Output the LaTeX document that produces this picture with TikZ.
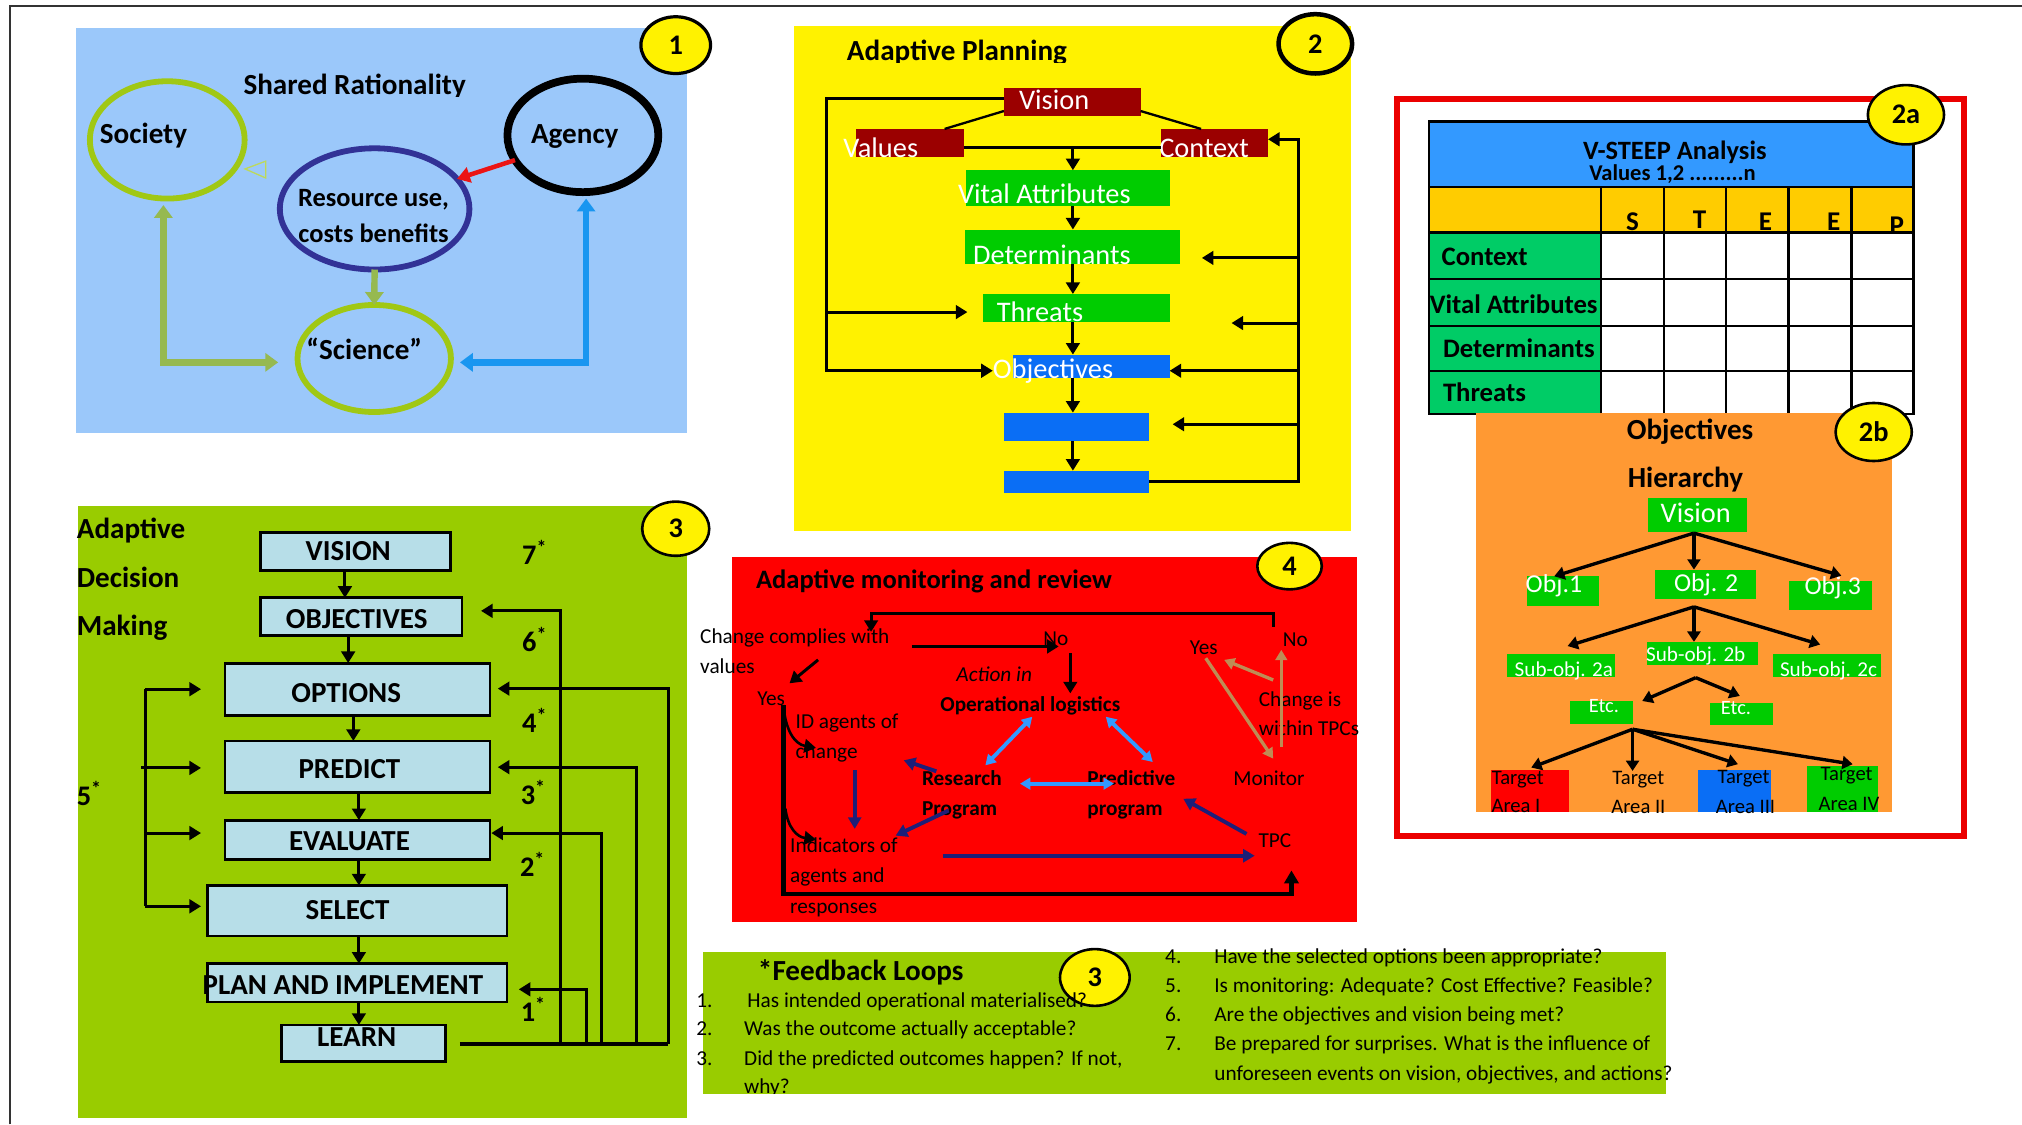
\documentclass[tikz,border=0pt]{standalone}
\usepackage{fontspec}
\setmainfont{Carlito}
\usetikzlibrary{arrows.meta,shapes.geometric,calc}

\definecolor{skypanel}{RGB}{155,200,250}
\definecolor{limec}{RGB}{160,200,20}
\definecolor{olivec}{RGB}{150,185,80}
\definecolor{arrowblue}{RGB}{25,150,240}
\definecolor{resblue}{RGB}{50,50,150}
\definecolor{arrred}{RGB}{235,20,20}
\definecolor{darkred}{RGB}{155,0,0}
\definecolor{boxgreen}{RGB}{0,204,0}
\definecolor{boxblue}{RGB}{10,110,245}
\definecolor{framered}{RGB}{235,0,0}
\definecolor{headblue}{RGB}{51,153,255}
\definecolor{headyellow}{RGB}{255,204,0}
\definecolor{rowgreen}{RGB}{0,204,102}
\definecolor{hierorange}{RGB}{255,153,51}
\definecolor{leafgreen}{RGB}{153,204,0}
\definecolor{stepcyan}{RGB}{183,222,232}
\definecolor{monred}{RGB}{255,0,0}
\definecolor{navyarrow}{RGB}{30,30,120}
\definecolor{paleblue}{RGB}{51,153,255}
\definecolor{tanline}{RGB}{190,140,85}

\newcommand\fz[1]{\fontsize{#1pt}{#1pt}\selectfont}
% rectangle node given by its two corners
\newcommand\cornerbox[6]{\node[#6, shape=rectangle, inner sep=0pt, outer sep=0pt, anchor=north west,
  minimum width={(#4-#2)*1pt}, minimum height={(#5-#3)*1pt}] (#1) at (#2,#3) {};}

\begin{document}
\begin{tikzpicture}[x=1pt, y=-1pt,
  every node/.style={inner sep=0pt, outer sep=0pt},
  hd/.style={font=\bfseries\fz{22.6}, text height=14.5pt, text depth=0pt},
  wt/.style={font=\fz{22}, text=white},
  badge/.style={shape=ellipse, draw=black, line width=2.5pt, fill=yellow, font=\bfseries\fz{22}},
  tipk/.style={-{Triangle[length=9pt,width=10.5pt]}},
  blk/.style={draw=black, line width=2.3pt, tipk},
  plainblk/.style={draw=black, line width=2.3pt},
  stepbox/.style={fill=stepcyan, draw=black, line width=2.2pt},
  steptxt/.style={font=\bfseries\fz{22.5}, text height=14.5pt, text depth=0pt},
  numlbl/.style={font=\bfseries\fz{22}, anchor=base west},
  body/.style={font=\fz{16.5}, text height=10.6pt, text depth=0pt},
  bodyb/.style={font=\bfseries\fz{16.5}, text height=10.6pt, text depth=0pt},
  rowlbl/.style={font=\bfseries\fz{20.7}, text height=13.3pt, text depth=0pt, anchor=west},
  hier/.style={draw=black, line width=2.6pt, -{Triangle[length=8pt,width=10pt]}},
  tgt/.style={font=\fz{16}, text height=10.3pt, text depth=0pt},
  navy/.style={draw=navyarrow, line width=3pt, -{Triangle[length=9pt,width=10pt]}},
  pale/.style={draw=paleblue, line width=3pt, {Triangle[length=8pt,width=9pt]}-{Triangle[length=8pt,width=9pt]}},
  tanarrow/.style={draw=tanline, line width=2.6pt, -{Triangle[length=8pt,width=9pt]}},
]
\useasboundingbox (0,0) rectangle (1568,872);
\fill[white] (0,0) rectangle (1568,872);
\draw[line width=1.6pt, black!80] (8,872) -- (8,5) -- (1568,5);

%% ---------- 1: shared rationality ----------
\cornerbox{pone}{59}{22}{533}{336}{fill=skypanel}
\node[badge, minimum width=54pt, minimum height=44pt] (badgeone) at (524,35) {1};
\begin{scope}
  \clip (150,40) rectangle (400,74.8);
  \node[hd] (shared) at (275,66) {Shared Rationality};
\end{scope}
\node[shape=ellipse, draw=limec, line width=4.5pt, minimum width=120pt, minimum height=91pt] (society) at (129.7,108.5) {};
\node[shape=ellipse, draw=black, line width=6pt, minimum width=117pt, minimum height=88pt] (agency) at (452,105) {};
\node[shape=ellipse, draw=resblue, line width=4.5pt, minimum width=147pt, minimum height=94pt] (resource) at (290.5,162) {};
\node[shape=ellipse, draw=limec, line width=4.5pt, minimum width=119pt, minimum height=83pt] (science) at (290.2,278) {};
\node[hd, anchor=west] (societyname) at (77.5,104.4) {Society};
\node[hd] (agencyname) at (445.7,104.4) {Agency};
\node[font=\bfseries\fz{20.5}, text height=13.2pt, text depth=0pt] (resA) at (289.7,153.3) {Resource use,};
\node[font=\bfseries\fz{20.5}, text height=13.2pt, text depth=0pt] (resB) at (289.7,181.6) {costs benefits};
\node[hd] (sciencename) at (282.5,271.7) {“Science”};
\draw[draw=arrred, line width=3.5pt, -{Triangle[length=10pt,width=12pt]}] (agency.200) -- (resource.20);
\draw[draw=olivec, line width=5pt, -{Triangle[length=10pt,width=14pt]}] (resource.south) -- (science.north);
\draw[draw=olivec, line width=5pt, {Triangle[length=10pt,width=14pt]}-{Triangle[length=10pt,width=14pt]},
  shorten <=5pt, shorten >=15pt] ([xshift=-3pt]society.south) |- ([yshift=-3pt]science.west);
\draw[draw=arrowblue, line width=5pt, {Triangle[length=10pt,width=14pt]}-{Triangle[length=10pt,width=14pt]},
  shorten <=5pt, shorten >=7pt] ([xshift=2.5pt]agency.south) |- ([yshift=-3pt]science.east);
\draw[draw=limec!70, line width=1pt] (190,131) -- (206,125) -- (206,138) -- cycle;

%% ---------- 2: adaptive planning ----------
\cornerbox{ptwo}{616}{20}{1048}{411.8}{fill=yellow}
\node[badge, line width=3.5pt, minimum width=57pt, minimum height=46pt, fill=yellow] (badgetwo) at (1020,34) {2};
\begin{scope}
  \clip (640,20) rectangle (900,48.5);
  \node[hd, anchor=west] (aptitle) at (656.8,40) {Adaptive Planning};
\end{scope}
\cornerbox{vis}{778.5}{68}{884.5}{89.6}{fill=darkred}
\cornerbox{val}{663.7}{100}{747.3}{122}{fill=darkred}
\cornerbox{ctx}{900.2}{100}{983.3}{122}{fill=darkred}
\cornerbox{vital}{749.4}{132}{907}{160}{fill=boxgreen}
\cornerbox{det}{748}{178}{915}{205}{fill=boxgreen}
\cornerbox{thr}{762.2}{228}{907}{250}{fill=boxgreen}
\cornerbox{obj}{785.9}{275}{907}{293}{fill=boxblue}
\cornerbox{bxa}{778.5}{320}{891.3}{342}{fill=boxblue}
\cornerbox{bxb}{778.5}{365}{891.3}{382.5}{fill=boxblue}
\node[wt, anchor=base west] (visname) at (790.3,85) {Vision};
\node[wt, anchor=base west] (valname) at (654,121.9) {Values};
\node[wt, anchor=base west] (ctxname) at (899,121.9) {Context};
\node[wt, anchor=base west] (vitalname) at (743,157.8) {Vital Attributes};
\node[wt, anchor=base west] (detname) at (754.6,205.4) {Determinants};
\node[wt, anchor=base west] (thrname) at (773,249.5) {Threats};
\node[wt, anchor=base west] (objname) at (770,293.3) {Objectives};
\draw[plainblk, line width=1.8pt] ($(vis.south west)+(0,-3.5)$) -- ($(val.north west)+(68.8,0)$);
\draw[plainblk, line width=1.8pt] ($(vis.south east)+(0,-3.5)$) -- ($(ctx.north west)+(31.2,0)$);
\draw[plainblk] ($(val.east)+(0,3.5)$) -- ($(ctx.west)+(0,3.5)$);
\coordinate (cx) at (832,114.5);
\draw[blk] (cx) -- (cx |- vital.north);
\draw[blk] (cx |- vital.south) -- (cx |- det.north);
\draw[blk] (cx |- det.south) -- (cx |- thr.north);
\draw[blk] (cx |- thr.south) -- (cx |- obj.north);
\draw[blk] (cx |- obj.south) -- (cx |- bxa.north);
\draw[blk] (cx |- bxa.south) -- (cx |- bxb.north);
% left feedback
\coordinate (lx) at (640.6,0);
\coordinate (visL) at ($(vis.north west)+(0,8.2)$);
\coordinate (objL) at ($(obj.west)+(0,3.5)$);
\coordinate (thrL) at ($(thr.west)+(0,3)$);
\draw[blk, shorten >=16pt] (visL) -| (lx |- objL) -- (objL);
\draw[blk, shorten >=12pt] (lx |- thrL) -- (thrL);
% right feedback
\coordinate (rx) at (1007,0);
\coordinate (ctxR) at ($(ctx.east)+(0,-3)$);
\draw[blk] (bxb.east) -| (rx |- ctxR) -- (ctxR);
\coordinate (detR) at ($(det.east)+(17,8.5)$);
\coordinate (thrR) at ($(thr.east)+(48,11.5)$);
\coordinate (objR) at ($(obj.east)+(0,3.5)$);
\coordinate (bxaR) at ($(bxa.east)+(18,-2)$);
\foreach \t in {detR,thrR,objR,bxaR} \draw[blk] (rx |- \t) -- (\t);

%% ---------- 2a: V-STEEP table ----------
\cornerbox{frametwo}{1083.6}{77}{1522.8}{648}{draw=framered, line width=4.5pt, fill=white}
\cornerbox{thead}{1108.2}{94}{1484}{144.7}{fill=headblue}
\cornerbox{tyel}{1108.2}{144.7}{1484}{180.3}{fill=headyellow}
\node[font=\bfseries\fz{20.5}, text height=13.2pt, text depth=0pt] (steeptitle) at (1298.7,117) {V-STEEP Analysis};
\node[font=\bfseries\fz{17.5}, text height=11.3pt, text depth=0pt] (steepvalues) at (1297,134.5) {Values 1,2 .........n};
\begin{scope}
  \clip (1108.2,144.7) rectangle (1484,180.3);
  \node[font=\bfseries\fz{21}, anchor=base] (colS) at (1266,178.5) {S};
  \node[font=\bfseries\fz{21}, anchor=base] (colT) at (1318,177) {T};
  \node[font=\bfseries\fz{21}, anchor=base] (colE) at (1369,179) {E};
  \node[font=\bfseries\fz{21}, anchor=base] (colEE) at (1422,179) {E};
  \node[font=\bfseries\fz{21}, anchor=base] (colP) at (1471,182) {P};
\end{scope}
\cornerbox{tbody}{1108.2}{180.3}{1484}{321}{fill=white}
\cornerbox{tgreen}{1108.2}{180.3}{1241.6}{321}{fill=rowgreen}
\foreach \yy in {144.7,180.3,216,252.5,287.6} \draw[line width=1.6pt] (1108.2,\yy) -- (1484,\yy);
\foreach \xx in {1241.6,1290.5,1338.6,1387,1435.8} \draw[line width=1.8pt] (\xx,144.7) -- (\xx,321);
\draw[line width=2pt] (1108.2,94) rectangle (1484,321);
\node[rowlbl] (rowctx) at (1118,199) {Context};
\node[rowlbl] (rowvital) at (1108.8,236.5) {Vital Attributes};
\node[rowlbl] (rowdet) at (1119,270.7) {Determinants};
\node[rowlbl] (rowthr) at (1119,304.4) {Threats};
\node[badge, line width=2pt, minimum width=59pt, minimum height=46pt] (badgetwoa) at (1478,89) {2a};

%% ---------- 2b: objectives hierarchy ----------
\cornerbox{ptwob}{1144.4}{320}{1467.3}{630}{fill=hierorange}
\node[badge, line width=2pt, minimum width=59pt, minimum height=45pt] (badgetwob) at (1453,335) {2b};
\node[hd] (hiertitleA) at (1310.6,333.4) {Objectives};
\node[hd] (hiertitleB) at (1307,370.8) {Hierarchy};
\cornerbox{hvis}{1278}{385.8}{1354.5}{412.8}{fill=boxgreen}
\cornerbox{hoa}{1184.5}{446.9}{1240.3}{470.1}{fill=boxgreen}
\cornerbox{hob}{1283.3}{441.7}{1362}{464.4}{fill=boxgreen}
\cornerbox{hoc}{1387.2}{450.8}{1451.6}{472.7}{fill=boxgreen}
\cornerbox{hsa}{1169}{507.5}{1252.7}{525}{fill=boxgreen}
\cornerbox{hsb}{1277.4}{497.7}{1363.2}{515.7}{fill=boxgreen}
\cornerbox{hsc}{1375}{507.5}{1459}{525}{fill=boxgreen}
\cornerbox{hea}{1217.1}{543.6}{1266}{561.7}{fill=boxgreen}
\cornerbox{heb}{1326}{545}{1375}{562.4}{fill=boxgreen}
\cornerbox{hta}{1156.3}{597}{1216.5}{630}{fill=monred}
\cornerbox{htc}{1316.6}{597}{1373}{630}{fill=boxblue}
\cornerbox{htd}{1401}{594}{1456}{630}{fill=boxgreen}
\node[wt, text height=14.2pt, text depth=0pt] (hvisname) at (1315,397.9) {Vision};
\node[font=\fz{20}, text=white, text height=12.9pt, text depth=0pt] (hoaname) at (1205,453.3) {Obj.1};
\node[font=\fz{20}, text=white, text height=12.9pt, text depth=0pt] (hobname) at (1323,452) {Obj. 2};
\node[font=\fz{20}, text=white, text height=12.9pt, text depth=0pt] (hocname) at (1421.3,454.6) {Obj.3};
\node[font=\fz{16.4}, text=white, text height=10.6pt, text depth=0pt] (hsaname) at (1212.7,519.6) {Sub-obj. 2a};
\node[font=\fz{16.4}, text=white, text height=10.6pt, text depth=0pt] (hsbname) at (1315,508) {Sub-obj. 2b};
\node[font=\fz{16.4}, text=white, text height=10.6pt, text depth=0pt] (hscname) at (1418,519.6) {Sub-obj. 2c};
\node[font=\fz{15.8}, text=white, text height=10.2pt, text depth=0pt] (heaname) at (1243.8,547.5) {Etc.};
\node[font=\fz{15.8}, text=white, text height=10.2pt, text depth=0pt] (hebname) at (1346.2,548.7) {Etc.};
\node[tgt] (tgtaA) at (1177,603) {Target};
\node[tgt] (tgtaB) at (1175.6,624.8) {Area I};
\node[tgt] (tgtbA) at (1270.5,603) {Target};
\node[tgt] (tgtbB) at (1270.5,626) {Area II};
\node[tgt] (tgtcA) at (1352,602.4) {Target};
\node[tgt] (tgtcB) at (1353.6,625.4) {Area III};
\node[tgt] (tgtdA) at (1432,600.3) {Target};
\node[tgt] (tgtdB) at (1433.8,623) {Area IV};
\coordinate (hv) at (1313.6,413.4);
\draw[hier] (hv) -- ($(hoa.north west)+(20.7,0)$);
\draw[hier] (hv) -- (hv |- hob.north);
\draw[hier] (hv) -- ($(hoc.north west)+(40.7,-4.4)$);
\coordinate (ho) at (1313.6,470.6);
\draw[hier] (ho) -- ($(hsa.north west)+(46.6,-6.5)$);
\draw[hier] (ho) -- (ho |- hsb.north);
\draw[hier] (ho) -- ($(hsc.north west)+(36.5,-7.7)$);
\coordinate (hs) at (1315,525.5);
\draw[hier] (hs) -- ($(hea.north east)+(7.5,0)$);
\draw[hier] (hs) -- ($(heb.north west)+(23.2,-5.3)$);
\coordinate (he) at (1266,565.5);
\draw[hier] (he) -- ($(hta.north)+(1,-1.8)$);
\draw[hier] (he) -- (he |- tgtbA.north);
\draw[hier] (he) -- ($(htc.north west)+(31.1,-4.4)$);
\draw[hier] (he) -- ($(htd.north west)+(35.7,-1.4)$);

%% ---------- 3: adaptive decision making ----------
\cornerbox{pthree}{60.2}{392.5}{532.9}{867}{fill=leafgreen}
\node[badge, line width=2pt, minimum width=52pt, minimum height=42pt] (badgethree) at (524,410) {3};
\node[hd, anchor=west] (admA) at (59.6,410.5) {Adaptive};
\node[hd, anchor=west] (admB) at (59.6,448.3) {Decision};
\node[hd, anchor=west] (admC) at (59.6,485.7) {Making};
\cornerbox{svis}{202.2}{413}{349.4}{442.7}{stepbox}
\cornerbox{sobj}{202.2}{463.6}{358.2}{492.7}{stepbox}
\cornerbox{sopt}{174.5}{514.2}{380}{554.7}{stepbox}
\cornerbox{spred}{174.5}{574.6}{380}{614.5}{stepbox}
\cornerbox{seval}{174.5}{636}{380}{666.6}{stepbox}
\cornerbox{ssel}{160.8}{686.6}{393.2}{725.8}{stepbox}
\cornerbox{splan}{160.8}{747.3}{393.2}{777}{stepbox}
\cornerbox{slearn}{218.5}{794.8}{345.2}{823}{stepbox}
\node[steptxt] (svisname) at (270,427.4) {VISION};
\node[steptxt] (sobjname) at (276.6,479.9) {OBJECTIVES};
\node[steptxt] (soptname) at (268.5,537.2) {OPTIONS};
\node[steptxt] (spredname) at (271,596.4) {PREDICT};
\node[steptxt] (sevalname) at (271,652.2) {EVALUATE};
\node[steptxt] (sselname) at (269.5,705.9) {SELECT};
\node[steptxt] (splanname) at (265.9,764.2) {PLAN AND IMPLEMENT};
\node[steptxt] (slearnname) at (276.6,804.6) {LEARN};
\coordinate (da) at (267.5,0);
\coordinate (db) at (270,0);
\coordinate (dc) at (274,0);
\coordinate (dd) at (278.3,0);
\draw[blk] (da |- svis.south) -- (da |- sobj.north);
\draw[blk] (db |- sobj.south) -- (db |- sopt.north);
\draw[blk] (dc |- sopt.south) -- (dc |- spred.north);
\draw[blk] (dd |- spred.south) -- (dd |- seval.north);
\draw[blk] (dd |- seval.south) -- (dd |- ssel.north);
\draw[blk] (dd |- ssel.south) -- (dd |- splan.north);
\draw[blk] (dd |- splan.south) -- (dd |- slearn.north);
% loop on the left
\coordinate (ll) at (112.8,0);
\coordinate (lopt) at (155.9,534.45);
\coordinate (lpred) at (155.9,595.5);
\coordinate (leval) at (155.9,646);
\coordinate (lsel) at (155.9,702.8);
\draw[plainblk] (ll |- lopt) -- (ll |- lsel);
\draw[plainblk] (109.5,595.5) -- (ll |- lpred);
\foreach \t in {lopt,lpred,leval,lsel} \draw[blk] (ll |- \t) -- (\t);
% feedback loops on the right
\coordinate (fbs) at (356.6,809.6);
\coordinate (fbe) at (518.2,809.6);
\draw[plainblk, line width=2.6pt] (fbs) -- (fbe);
\coordinate (va) at (454.5,0);
\coordinate (vb) at (466.6,0);
\coordinate (vc) at (493.7,0);
\coordinate (vd) at (518.2,0);
\coordinate (ve) at (435,0);
\coordinate (fa) at (402.3,767.2);
\coordinate (fb) at (381,646);
\coordinate (fc) at (386,594.9);
\coordinate (fd) at (386,534);
\coordinate (fe) at (373,473.7);
\draw[blk] (va |- fbs) |- (fa);
\draw[blk] (vb |- fbs) |- (fb);
\draw[blk] (vc |- fbs) |- (fc);
\draw[blk] (vd |- fbs) |- (fd);
\draw[blk] (ve |- fbs) |- (fe);
\node[numlbl] (nseven) at (404.9,437.5) {7\textsuperscript{*}};
\node[numlbl] (nsix) at (404.9,505) {6\textsuperscript{*}};
\node[numlbl] (nfour) at (404.9,567.9) {4\textsuperscript{*}};
\node[numlbl] (nthree) at (403.9,623.7) {3\textsuperscript{*}};
\node[numlbl] (ntwo) at (403.3,679.8) {2\textsuperscript{*}};
\node[numlbl] (none) at (403.9,791.8) {1\textsuperscript{*}};
\node[numlbl] (nfive) at (59.6,624.6) {5\textsuperscript{*}};

%% ---------- 4: adaptive monitoring and review ----------
\cornerbox{pfour}{567.9}{432}{1052}{715}{fill=monred}
\node[badge, line width=2pt, minimum width=50pt, minimum height=36pt] (badgefour) at (1000,439) {4};
\node[font=\bfseries\fz{20.6}, text height=13.3pt, text depth=0pt, anchor=west] (montitle) at (586.3,449.4) {Adaptive monitoring and review};
\node[body, anchor=west] (complyA) at (543,493.5) {Change complies with};
\node[body, anchor=west] (complyB) at (543,517) {values};
\node[body] (noA) at (818.7,495.3) {No};
\node[font=\itshape\fz{16.5}, text height=10.6pt, text depth=0pt] (actionA) at (771,522.9) {Action in};
\node[bodyb] (actionB) at (799,546.2) {Operational logistics};
\node[body] (yesA) at (598,541.5) {Yes};
\node[body, anchor=west] (idA) at (617,559.7) {ID agents of};
\node[body, anchor=west] (idB) at (617,583) {change};
\node[body, anchor=west] (indA) at (612.8,655.8) {Indicators of};
\node[body, anchor=west] (indB) at (612.8,679) {agents and};
\node[body, anchor=west] (indC) at (612.8,703) {responses};
\node[bodyb, anchor=west] (resprogA) at (715,603.9) {Research};
\node[bodyb, anchor=west] (resprogB) at (715,627.2) {Program};
\node[bodyb, anchor=west] (predprogA) at (843.3,603.9) {Predictive};
\node[bodyb, anchor=west] (predprogB) at (843.3,627.2) {program};
\node[body] (monitorname) at (984,603.9) {Monitor};
\node[body] (tpcname) at (988.6,651.9) {TPC};
\node[body] (yesB) at (933.5,502) {Yes};
\node[body] (noB) at (1004.5,496) {No};
\node[body, anchor=west] (tpcsA) at (976.2,542.3) {Change is};
\node[body, anchor=west] (tpcsB) at (976.2,565) {within TPCs};
% top return loop
\coordinate (lpA) at (987.3,486);
\coordinate (lpC) at (675.5,475.4);
\coordinate (lpB) at (675.5,490);
\draw[blk] (lpA) |- (lpC) -- (lpB);
\coordinate (cmpA) at (707.2,501.3);
\coordinate (cmpB) at (821,501.3);
\draw[blk] (cmpA) -- (cmpB);
\coordinate (noC) at (830,506.5);
\coordinate (noD) at (830,537.7);
\draw[blk] (noC) -- (noD);
\coordinate (vlA) at (634.4,511.7);
\coordinate (vlB) at (612.2,529.9);
\draw[blk] (vlA) -- (vlB);
% thick spine
\coordinate (spA) at (607.5,546.7);
\coordinate (spB) at (607.5,693.4);
\coordinate (spC) at (1001.5,675);
\draw[draw=black, line width=3.5pt, -{Triangle[length=10pt,width=11pt]}] (spA) -- (spB) -| (spC);
\coordinate (cvA) at (632.8,580);
\coordinate (cvB) at (632.8,651);
\draw[blk, line width=2pt] (spA) .. controls (609,566) and (616,577) .. (cvA);
\draw[blk, line width=2pt] (609,627) .. controls (611,642) and (618,649) .. (cvB);
\coordinate (nvA) at (662.8,597.4);
\coordinate (nvB) at (662.8,642.8);
\draw[navy] (nvA) -- (nvB);
\draw[navy] ($(resprogA.west)+(11.1,-5.8)$) -- (700.8,589.6);
\draw[navy] ($(resprogB.west)+(20.6,1.3)$) -- (694.5,648);
\draw[pale] (800.5,555.8) -- (764.1,593.5);
\draw[pale] (857.5,555.8) -- (893.9,590.9);
\draw[pale] (791,607.7) -- (863.8,607.7);
\draw[navy] ($(tpcname.west)+(-9.3,-5.2)$) -- (917.6,619.4);
\coordinate (ltA) at (730.9,663.6);
\coordinate (ltB) at (973,663.6);
\draw[navy] (ltA) -- (ltB);
\draw[tanarrow] (993.6,579.2) -- (993.6,503.9);
\draw[tanarrow] (987.3,527.3) -- (949.3,511.7);
\draw[tanarrow] (935,510.4) -- (987.3,588.3);

%% ---------- feedback loops legend ----------
\cornerbox{pfb}{545}{738}{1291.9}{848}{fill=leafgreen}
\node[badge, line width=2pt, minimum width=54pt, minimum height=44pt] (badgefb) at (849,758) {3};
\node[hd] (fbtitle) at (667.5,753.3) {*Feedback Loops};
\begin{scope}
  \clip (520,735) rectangle (900,848);
  \node[body, anchor=west] (qa) at (540,775.7) {1.};
  \node[body, anchor=west] (qat) at (579.6,775.7) {Has intended operational materialised?};
  \node[body, anchor=west] (qb) at (540,797.8) {2.};
  \node[body, anchor=west] (qbt) at (577.1,797.8) {Was the outcome actually acceptable?};
  \node[body, anchor=west] (qc) at (540,820.7) {3.};
  \node[body, anchor=west] (qct) at (577.1,820.7) {Did the predicted outcomes happen? If not,};
  \node[body, anchor=west] (qcu) at (577.1,843) {why?};
\end{scope}
\node[body, anchor=west] (qd) at (903.6,741.8) {4.};
\node[body, anchor=west] (qdt) at (941.7,741.8) {Have the selected options been appropriate?};
\node[body, anchor=west] (qe) at (903.6,764.2) {5.};
\node[body, anchor=west] (qet) at (941.7,764.2) {Is monitoring: Adequate? Cost Effective? Feasible?};
\node[body, anchor=west] (qf) at (903.6,787.1) {6.};
\node[body, anchor=west] (qft) at (941.7,787.1) {Are the objectives and vision being met?};
\node[body, anchor=west] (qg) at (903.6,809.3) {7.};
\node[body, anchor=west] (qgt) at (941.7,809.3) {Be prepared for surprises. What is the influence of};
\node[body, anchor=west] (qgu) at (941.7,832.2) {unforeseen events on vision, objectives, and actions?};
\end{tikzpicture}
\end{document}
